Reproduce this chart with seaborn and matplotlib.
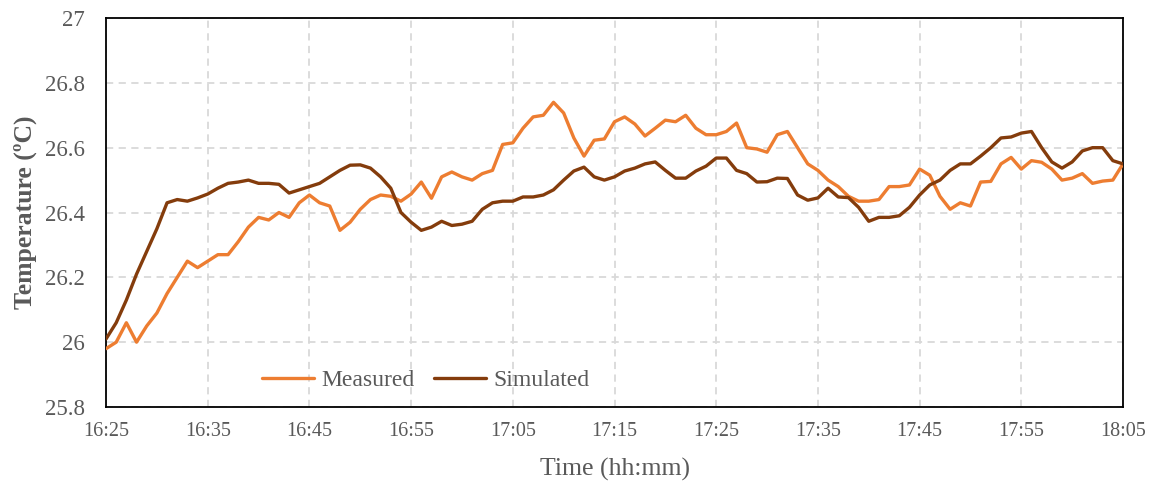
import matplotlib
matplotlib.use("Agg")
import matplotlib.pyplot as plt
import seaborn as sns
import pandas as pd
import numpy as np

# minutes after 16:25 (one sample per minute, 16:25 .. 18:05)
minutes = list(range(0, 101))

measured = [25.98, 26.00, 26.06, 26.00, 26.05, 26.09, 26.15, 26.20, 26.25, 26.23,
            26.25, 26.27, 26.27, 26.31, 26.355, 26.385, 26.377, 26.40, 26.385, 26.43,
            26.454, 26.43, 26.42, 26.345, 26.37, 26.41, 26.44, 26.454, 26.45, 26.435,
            26.457, 26.494, 26.444, 26.51, 26.525, 26.51, 26.50, 26.52, 26.53, 26.61,
            26.615, 26.66, 26.695, 26.70, 26.74, 26.707, 26.63, 26.574, 26.623, 26.627,
            26.68, 26.695, 26.673, 26.636, 26.66, 26.685, 26.68, 26.70, 26.66, 26.64,
            26.64, 26.65, 26.676, 26.60, 26.596, 26.586, 26.64, 26.65, 26.60, 26.55,
            26.53, 26.50, 26.48, 26.45, 26.435, 26.435, 26.44, 26.48, 26.48, 26.485,
            26.534, 26.515, 26.45, 26.41, 26.43, 26.42, 26.494, 26.496, 26.55, 26.57,
            26.534, 26.56, 26.555, 26.534, 26.50, 26.506, 26.52, 26.49, 26.497, 26.50,
            26.55]

simulated = [26.01, 26.06, 26.13, 26.21, 26.28, 26.35, 26.43, 26.44, 26.435, 26.445,
             26.457, 26.475, 26.49, 26.494, 26.50, 26.49, 26.49, 26.487, 26.46, 26.47,
             26.48, 26.49, 26.51, 26.53, 26.546, 26.547, 26.537, 26.51, 26.475, 26.40,
             26.37, 26.345, 26.355, 26.373, 26.36, 26.364, 26.373, 26.41, 26.43, 26.435,
             26.435, 26.448, 26.448, 26.454, 26.47, 26.50, 26.528, 26.54, 26.51, 26.50,
             26.51, 26.528, 26.537, 26.55, 26.556, 26.53, 26.506, 26.506, 26.528, 26.543,
             26.568, 26.568, 26.53, 26.52, 26.494, 26.495, 26.506, 26.505, 26.454, 26.438,
             26.445, 26.475, 26.448, 26.446, 26.416, 26.373, 26.385, 26.385, 26.39, 26.416,
             26.454, 26.485, 26.50, 26.53, 26.55, 26.55, 26.574, 26.60, 26.63, 26.633,
             26.645, 26.65, 26.60, 26.556, 26.537, 26.556, 26.59, 26.60, 26.60, 26.56,
             26.55]

tick_minutes = [0, 10, 20, 30, 40, 50, 60, 70, 80, 90, 100]
tick_labels = ["16:25", "16:35", "16:45", "16:55", "17:05", "17:15",
               "17:25", "17:35", "17:45", "17:55", "18:05"]
y_ticks = [25.8, 26.0, 26.2, 26.4, 26.6, 26.8, 27.0]
y_labels = ["25.8", "26", "26.2", "26.4", "26.6", "26.8", "27"]

df = pd.DataFrame({
    "minute": minutes * 2,
    "temp": measured + simulated,
    "series": ["Measured"] * len(measured) + ["Simulated"] * len(simulated),
})

sns.set_theme(style="white")
plt.rcParams["font.family"] = ["Liberation Serif", "DejaVu Serif"]

gray = "#595959"
fig = plt.figure(figsize=(11.55, 4.83), dpi=100)
ax = fig.add_axes([0.0918, 0.1573, 0.8805, 0.8054])

sns.lineplot(data=df, x="minute", y="temp", hue="series",
             palette={"Measured": "#ED7D31", "Simulated": "#843C0C"},
             linewidth=2.4, ax=ax, zorder=3)

ax.set_xlim(0, 100)
ax.set_ylim(25.8, 27.0)
ax.set_xticks(tick_minutes)
ax.set_xticklabels(tick_labels)
ax.set_yticks(y_ticks)
ax.set_yticklabels(y_labels)
ax.tick_params(axis="both", length=0, colors=gray)
ax.tick_params(axis="x", labelsize=14.5, pad=11)
ax.tick_params(axis="y", labelsize=16.5, pad=15)

ax.grid(True, color="#D9D9D9", linestyle=(0, (4, 3)), linewidth=1.3, zorder=0)
for s in ax.spines.values():
    s.set_visible(True)
    s.set_color("black")
    s.set_linewidth(1.3)

ax.set_xlabel("Time (hh:mm)", fontsize=18.5, color=gray, labelpad=12)
ax.set_ylabel("Temperature (ºC)", fontsize=18.5, color=gray, fontweight="bold", labelpad=6)

leg = ax.legend(loc="center left", bbox_to_anchor=(0.144, 0.069), ncol=2, frameon=False,
                fontsize=17, handlelength=2.2, columnspacing=0.85, handletextpad=0.3,
                borderaxespad=0.0)
for t in leg.get_texts():
    t.set_color(gray)

fig.savefig("out.png", dpi=100)
